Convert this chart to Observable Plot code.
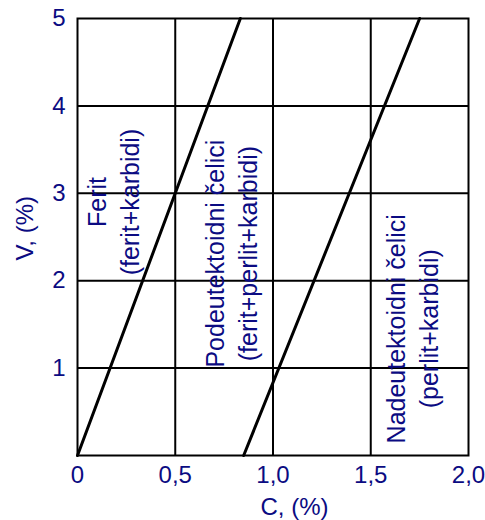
<!DOCTYPE html>
<html>
<head>
<meta charset="utf-8">
<script src="https://cdn.jsdelivr.net/npm/d3@7"></script>
<script src="https://cdn.jsdelivr.net/npm/@observablehq/plot@0.6"></script>
<style>
  html, body { margin: 0; padding: 0; background: #fff; }
  #chart { width: 485px; height: 520px; }
</style>
</head>
<body>
<div id="chart"></div>
<script>
// Axis ticks
const cTicks = [0, 0.5, 1.0, 1.5, 2.0];
const vTicks = [1, 2, 3, 4, 5];
const cGrid = [0.5, 1.0, 1.5];
const vGrid = [1, 2, 3, 4];

// Boundary lines: ferrite / hypoeutectoid, hypoeutectoid / hypereutectoid
const boundaryA_C = [0, 0.833];
const boundaryA_V = [0, 5];
const boundaryB_C = [0.85, 1.75];
const boundaryB_V = [0, 5];

// Region labels
const regionNames = ["Ferit\n(ferit+karbidi)", "Podeutektoidni čelici\n(ferit+perlit+karbidi)", "Nadeutektoidni čelici\n(perlit+karbidi)"];
const regionC = [0.175, 0.78, 1.705];
const regionV = [2.9, 2.31, 1.45];

const navy = "#0b0b82";
const font = "Liberation Sans, Arial, sans-serif";

const lineA = boundaryA_C.map((c, i) => ({c, v: boundaryA_V[i]}));
const lineB = boundaryB_C.map((c, i) => ({c, v: boundaryB_V[i]}));
const regions = regionNames.map((t, i) => ({t, c: regionC[i], v: regionV[i]}));

const fmt = d => d3.format(".1f")(d).replace(".", ",").replace(/^0,0$/, "0");

const chart = Plot.plot({
  width: 485,
  height: 520,
  marginLeft: 77,
  marginRight: 17,
  marginTop: 18,
  marginBottom: 65,
  style: {fontFamily: font, fontSize: "24px", color: navy, background: "#fff"},
  x: {domain: [0, 2], label: null},
  y: {domain: [0, 5], label: null},
  marks: [
    Plot.ruleX(cGrid, {stroke: "#000", strokeWidth: 2}),
    Plot.ruleY(vGrid, {stroke: "#000", strokeWidth: 2}),
    Plot.frame({stroke: "#000", strokeWidth: 2}),
    Plot.line(lineA, {x: "c", y: "v", stroke: "#000", strokeWidth: 3}),
    Plot.line(lineB, {x: "c", y: "v", stroke: "#000", strokeWidth: 3}),
    Plot.text(regions, {x: "c", y: "v", text: "t", rotate: -90, fill: navy,
      fontSize: 25, lineHeight: 1.32, textAnchor: "middle", lineAnchor: "middle"}),
    Plot.axisX(cTicks, {tickSize: 0, tickPadding: 10, tickFormat: fmt, fill: navy, fontSize: 24, label: null}),
    Plot.axisY(vTicks, {tickSize: 0, tickPadding: 12, tickFormat: d => String(d), fill: navy, fontSize: 24, label: null}),
    Plot.text(["C, (%)"], {frameAnchor: "bottom", x: 1.11, dy: 52, lineAnchor: "middle", textAnchor: "middle", fill: navy, fontSize: 24}),
    Plot.text(["V, (%)"], {frameAnchor: "left", y: 2.6, dx: -52, rotate: -90, lineAnchor: "middle", textAnchor: "middle", fill: navy, fontSize: 24})
  ]
});

document.getElementById("chart").appendChild(chart);
</script>
</body>
</html>
